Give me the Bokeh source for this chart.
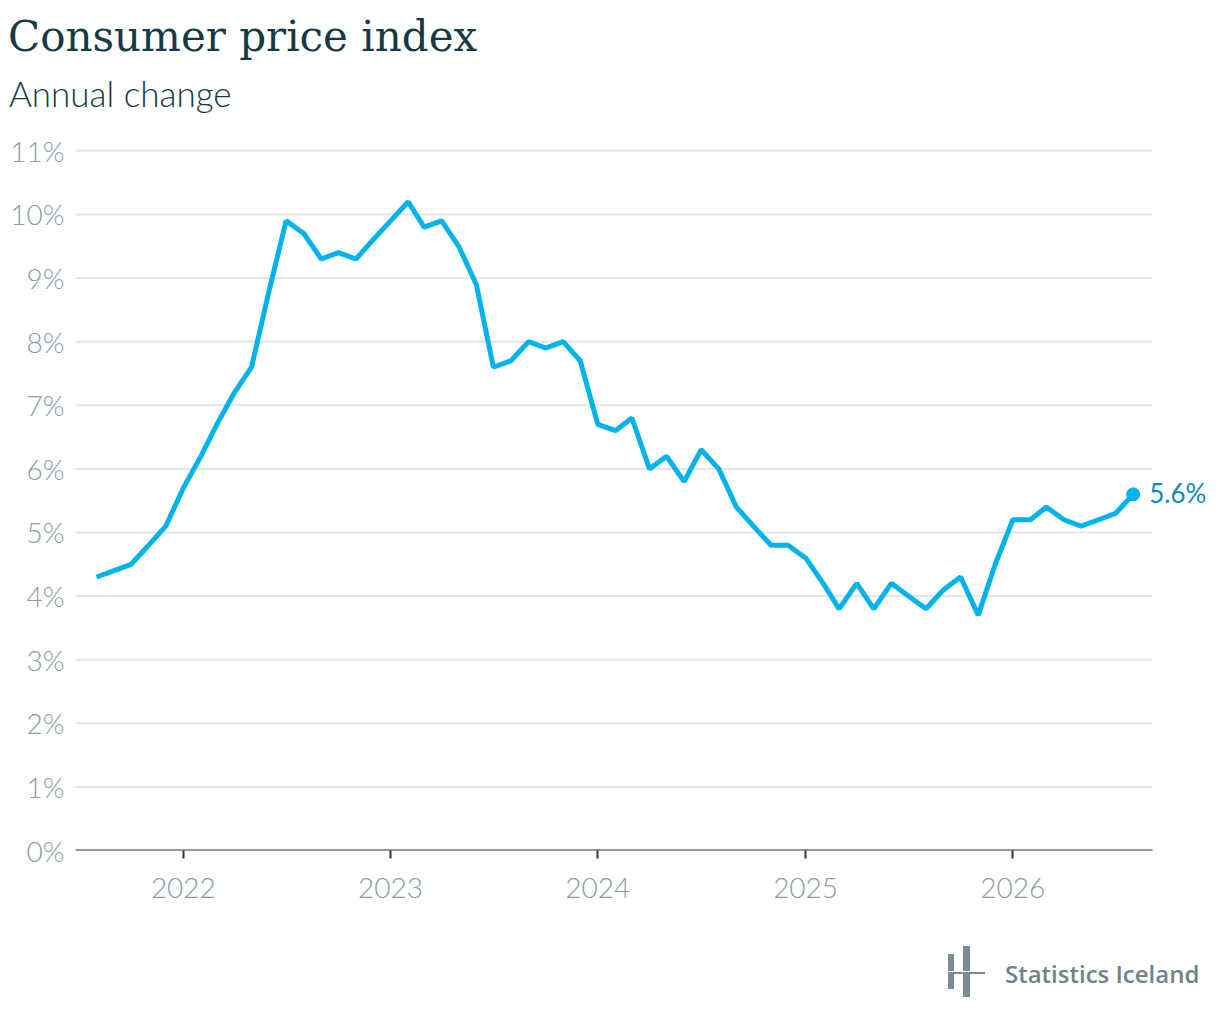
import pandas as pd
from bokeh.plotting import figure
from bokeh.models import Range1d, Label, Div, FixedTicker, PrintfTickFormatter, DatetimeTickFormatter
from bokeh.layouts import column
from bokeh.embed import file_html
from bokeh.resources import INLINE

# ---- data ----
title_text = "Consumer price index"
subtitle_text = "Annual change"
source_text = "Statistics Iceland"
start_month = "2021-08-01"
end_month = "2026-08-01"
cpi = [4.3, 4.4, 4.5, 4.8, 5.1,
       5.7, 6.2, 6.7, 7.2, 7.6, 8.8, 9.9, 9.7, 9.3, 9.4, 9.3, 9.6,
       9.9, 10.2, 9.8, 9.9, 9.5, 8.9, 7.6, 7.7, 8.0, 7.9, 8.0, 7.7,
       6.7, 6.6, 6.8, 6.0, 6.2, 5.8, 6.3, 6.0, 5.4, 5.1, 4.8, 4.8,
       4.6, 4.2, 3.8, 4.2, 3.8, 4.2, 4.0, 3.8, 4.1, 4.3, 3.7, 4.5,
       5.2, 5.2, 5.4, 5.2, 5.1, 5.2, 5.3, 5.6]
year_ticks = [2022, 2023, 2024, 2025, 2026]
y_ticks = list(range(0, 12))

months = pd.date_range(start_month, end_month, freq="MS")

def ms(ts):
    return pd.Timestamp(ts).value / 1e6

LINE = "#00b3ea"
GRAY = "#8a9ca4"
DARK = "#163a45"
LIGHT = "'Lato Light', Lato, sans-serif"

W = 1215
FL, FR_GRID = 75, 1152
x0 = ms(months[0] - pd.Timedelta(days=37))
x1 = ms(months[-1] + pd.Timedelta(days=34))
x_end = x0 + (x1 - x0) * (W - FL) / (FR_GRID - FL)

header = Div(width=W, height=110, text=f"""
<div style="position:relative;width:{W}px;height:110px;">
 <span style="position:absolute;left:3px;top:7px;white-space:nowrap;font-family:'DejaVu Serif';font-size:42px;line-height:normal;color:{DARK};">{title_text}</span>
 <span style="position:absolute;left:4px;top:67px;white-space:nowrap;font-family:{LIGHT};font-size:35px;line-height:normal;color:{DARK};">{subtitle_text}</span>
</div>""")

p = figure(width=W, height=808, x_axis_type="datetime",
           x_range=Range1d(x0, x_end), y_range=Range1d(0, 11.1),
           output_backend="svg", toolbar_location=None,
           min_border_left=FL, min_border_right=0, min_border_bottom=78, min_border_top=24)
p.outline_line_color = None
p.background_fill_color = "white"
p.border_fill_color = "white"

p.xgrid.grid_line_color = None
p.ygrid.grid_line_color = None
grid_vals = y_ticks[1:]
p.segment(x0=[x0] * len(grid_vals), y0=grid_vals, x1=[x1] * len(grid_vals), y1=grid_vals,
          line_color="#e6e6e6", line_width=2, level="underlay")
p.segment(x0=[x0], y0=[y_ticks[0]], x1=[x1], y1=[y_ticks[0]],
          line_color="#333333", line_width=2)

p.yaxis.ticker = FixedTicker(ticks=y_ticks)
p.yaxis.formatter = PrintfTickFormatter(format="%d%%")
p.yaxis.axis_line_color = None
p.yaxis.major_tick_line_color = None
p.yaxis.minor_tick_line_color = None
p.yaxis.major_label_standoff = 5
p.yaxis.major_label_text_font = LIGHT
p.yaxis.major_label_text_font_size = "28px"
p.yaxis.major_label_text_color = GRAY

p.xaxis.ticker = FixedTicker(ticks=[ms(f"{y}-01-01") for y in year_ticks])
p.xaxis.formatter = DatetimeTickFormatter(years="%Y", months="%Y", days="%Y", hours="%Y")
p.xaxis.axis_line_color = None
p.xaxis.major_tick_line_color = "#333333"
p.xaxis.major_tick_line_width = 2
p.xaxis.major_tick_out = 8
p.xaxis.major_tick_in = 0
p.xaxis.minor_tick_line_color = None
p.xaxis.major_label_standoff = 19
p.xaxis.major_label_text_font = LIGHT
p.xaxis.major_label_text_font_size = "28px"
p.xaxis.major_label_text_color = GRAY

p.line(months, cpi, line_width=5, color=LINE)
p.scatter([months[-1]], [cpi[-1]], size=13, color=LINE)
p.add_layout(Label(x=ms(months[-1]), y=cpi[-1], text=f"{cpi[-1]}%", x_offset=16, y_offset=1,
                   text_baseline="middle", text_font="Lato", text_font_size="26px",
                   text_color="#0a8bc0"))

logo = Div(width=W, height=90, text=f"""
<div style="position:relative;width:1204px;height:90px;">
 <div style="position:absolute;left:943px;top:21px;width:6px;height:35px;background:#7a8c92;"></div>
 <div style="position:absolute;left:958px;top:13px;width:7px;height:51px;background:#7a8c92;"></div>
 <div style="position:absolute;left:941px;top:38px;width:41px;height:3px;background:white;"></div>
 <div style="position:absolute;left:943px;top:39px;width:37px;height:2px;background:#7a8c92;"></div>
 <span style="position:absolute;left:1000px;top:24px;white-space:nowrap;font-family:'Open Sans';font-weight:600;font-size:24px;color:#6f8389;">{source_text}</span>
</div>""")

layout = column(header, p, logo)
open("out.html", "w").write(file_html(layout, INLINE))
